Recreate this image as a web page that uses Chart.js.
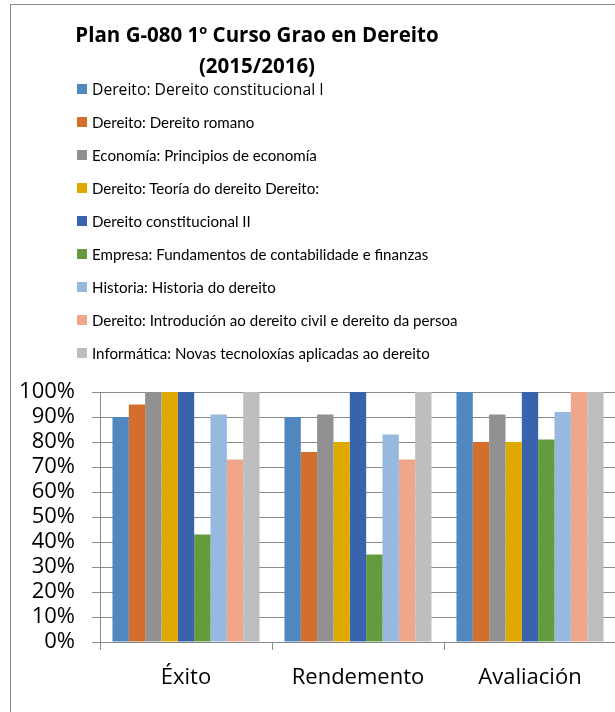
<!DOCTYPE html>
<html>
<head>
<meta charset="utf-8">
<script src="https://cdn.jsdelivr.net/npm/chart.js@4"></script>
<style>
  html, body { margin: 0; padding: 0; width: 615px; height: 712px; overflow: hidden; background: #fff; }
  #frame { position: absolute; left: 10px; top: 4px; width: 700px; height: 800px; border-left: 1px solid #8a8a8a; border-top: 1px solid #8a8a8a; pointer-events: none; }
  #wrap { position: absolute; left: 0; top: 0; width: 616px; height: 712px; }
  #title { position: absolute; left: 0; width: 514px; top: 19px; text-align: center; font-family: "Open Sans", sans-serif; font-weight: bold; font-size: 20.5px; line-height: 31px; color: #000; }
  #legend { position: absolute; left: 77px; top: 72px; font-family: "Lato", sans-serif; font-size: 15.1px; color: #000; }
  .item { position: absolute; left: 0; height: 33px; white-space: nowrap; display: flex; align-items: center; }
  .item.first { font-family: "Open Sans", sans-serif; font-size: 15.7px; }
  .box { width: 10px; height: 10px; margin-right: 5px; flex: none; }
</style>
</head>
<body>
<div id="wrap"><canvas id="c"></canvas></div>
<div id="title"></div>
<div id="legend"></div>
<div id="frame"></div>
<script>
const titleLines = ["Plan G-080 1º Curso Grao en Dereito", "(2015/2016)"];
const categories = ["Éxito", "Rendemento", "Avaliación"];
const seriesNames = [
  "Dereito: Dereito constitucional I",
  "Dereito: Dereito romano",
  "Economía: Principios de economía",
  "Dereito: Teoría do dereito Dereito:",
  "Dereito constitucional II",
  "Empresa: Fundamentos de contabilidade e finanzas",
  "Historia: Historia do dereito",
  "Dereito: Introdución ao dereito civil e dereito da persoa",
  "Informática: Novas tecnoloxías aplicadas ao dereito"
];
const constitucionalI = [90, 90, 100];
const romano = [95, 76, 80];
const economia = [100, 91, 91];
const teoria = [100, 80, 80];
const constitucionalII = [100, 100, 100];
const empresa = [43, 35, 81];
const historia = [91, 83, 92];
const introducion = [73, 73, 100];
const informatica = [100, 100, 100];
const yTicks = [0, 10, 20, 30, 40, 50, 60, 70, 80, 90, 100];
const colors = ["#5087be", "#d36e2c", "#919191", "#e0a900", "#3a63ad", "#639b3d", "#97b9e0", "#f0a689", "#bebebe"];

const seriesValues = [constitucionalI, romano, economia, teoria, constitucionalII, empresa, historia, introducion, informatica];

document.getElementById('title').innerHTML = titleLines.join('<br>');
const legend = document.getElementById('legend');
seriesNames.forEach((name, i) => {
  const it = document.createElement('div');
  it.className = 'item' + (i === 0 ? ' first' : '');
  it.style.top = (i * 33) + 'px';
  const b = document.createElement('span');
  b.className = 'box';
  b.style.background = colors[i];
  const t = document.createElement('span');
  t.textContent = name;
  it.appendChild(b); it.appendChild(t);
  legend.appendChild(it);
});

const canvas = document.getElementById('c');
canvas.width = 616; canvas.height = 712;
canvas.style.width = '616px'; canvas.style.height = '712px';

new Chart(canvas, {
  type: 'bar',
  data: {
    labels: categories,
    datasets: seriesNames.map((n, i) => ({
      label: n,
      data: seriesValues[i],
      backgroundColor: colors[i],
      borderWidth: 0,
      categoryPercentage: 0.855,
      barPercentage: 1.0
    }))
  },
  options: {
    responsive: false,
    animation: false,
    devicePixelRatio: 1,
    layout: { padding: { top: 392, left: 0, right: 0, bottom: 0 } },
    plugins: { legend: { display: false }, title: { display: false }, tooltip: { enabled: false } },
    scales: {
      x: {
        offset: true,
        grid: { offset: true, drawOnChartArea: false, drawTicks: true, tickLength: 8, color: '#8a8a8a', lineWidth: 1 },
        border: { display: true, color: '#8a8a8a', width: 1 },
        ticks: { color: '#000', padding: 15, font: { family: 'Open Sans', size: 22 }, maxRotation: 0 },
        afterFit: (s) => { s.height = 70; }
      },
      y: {
        min: 0, max: 100,
        afterBuildTicks: (s) => { s.ticks = yTicks.map(v => ({ value: v })); },
        grid: { color: '#8a8a8a', lineWidth: 1, tickLength: 8, drawTicks: true },
        border: { display: true, color: '#8a8a8a', width: 1 },
        ticks: { color: '#000', padding: 17, autoSkip: false, font: { family: 'Open Sans', size: 22 }, callback: (v) => v + '%' },
        afterFit: (s) => { s.width = 100; }
      }
    }
  }
});
</script>
</body>
</html>
